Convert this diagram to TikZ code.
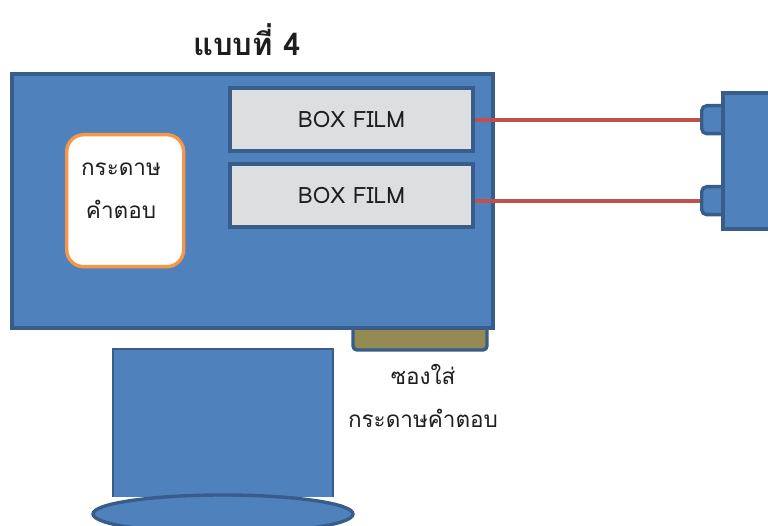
\documentclass[tikz,border=0pt]{standalone}
\usepackage{fontspec}
\setmainfont[Script=Thai]{Loma}
\newfontfamily\thaifont[Script=Thai]{Loma}
\definecolor{blueF}{HTML}{4F81BD}
\definecolor{blueD}{HTML}{385D8A}
\definecolor{grayF}{HTML}{DDDEE0}
\definecolor{orangeD}{HTML}{F79646}
\definecolor{redL}{HTML}{C0504D}
\definecolor{goldF}{HTML}{948A54}
\definecolor{txt}{HTML}{1E1E1E}
\begin{document}
\begin{tikzpicture}[x=1pt,y=-1pt,
  bluebox/.style={draw=blueD,fill=blueF,line width=3.4pt},
  filmbox/.style={draw=blueD,fill=grayF,line width=3.8pt,minimum width=243pt,minimum height=63pt,anchor=north west,inner sep=0pt,font=\fontsize{22.5}{26}\selectfont,text=txt},
  tabbox/.style={draw=blueD,fill=blueF,line width=3.4pt,rounded corners=5pt,minimum width=26pt,minimum height=28pt,anchor=north west,inner sep=0pt},
  wire/.style={draw=redL,line width=4pt},
  lbl/.style={text=txt,font=\thaifont\fontsize{22.5}{43}\selectfont,align=center,inner sep=0pt}]
\useasboundingbox (0,0) rectangle (768,526);
% stand and base
\coordinate (stand) at (223,349);
\path[bluebox,line width=2.6pt] (113,497) -- (113,349) -- (333,349) -- (333,497);
\draw[bluebox] (223,514) ellipse [x radius=130, y radius=19];
\coordinate (base) at (223,514);
% slot under main box
\draw[draw=blueD,fill=goldF,line width=3.4pt,rounded corners=4pt] (353,315) -- (353,350) -- (487,350) -- (487,315);
\coordinate (slot) at (420,350);
% main box
\draw[bluebox] (12,74) rectangle (493,328);
\coordinate (main) at (252,201);
% answer sheet
\node[draw=orangeD,fill=white,line width=3.4pt,rounded corners=17pt,minimum width=117pt,minimum height=132pt,anchor=north west] (answer) at (65,133) {};
\node[lbl] (answerlbl) at (121,191) {กระดาษ\\คำตอบ};
% film boxes
\node[filmbox] (film1) at (228,86) {BOX FILM};
\node[filmbox] (film2) at (228,162) {BOX FILM};
% right device
\node[tabbox] (tab1) at (700,104) {};
\node[tabbox] (tab2) at (700,185) {};
\draw[bluebox] (790,93) -- (723,93) -- (723,229) -- (790,229);
\coordinate (dev) at (745,161);
% wires
\draw[wire] (tab1.west -| film1.east) -- (tab1.west);
\draw[wire] (tab2.west -| film2.east) -- (tab2.west);
% labels
\node[lbl,font=\thaifont\bfseries\fontsize{31}{34}\selectfont] (title) at (247,40) {แบบที่ 4};
\node[lbl] (slotlbl) at (423,396) {ซองใส่\\กระดาษคำตอบ};
\end{tikzpicture}
\end{document}
